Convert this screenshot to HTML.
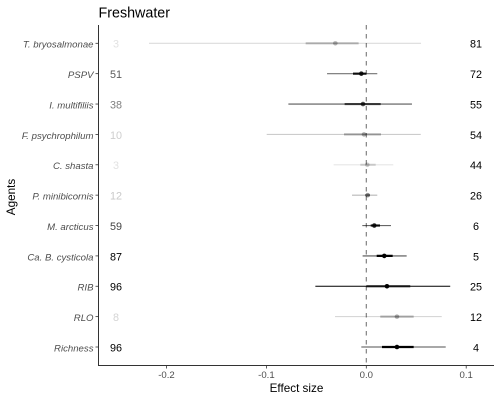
<!DOCTYPE html>
<html>
<head>
<meta charset="utf-8">
<style>
html,body{margin:0;padding:0;background:#fff;}
svg{display:block;font-family:"Liberation Sans",sans-serif;filter:blur(0.3px);}
</style>
</head>
<body>
<svg id="chart" width="500" height="400" viewBox="0 0 500 400" xmlns="http://www.w3.org/2000/svg">
<rect width="500" height="400" fill="#fff"/>
<text x="98.5" y="17.5" font-size="14.3" fill="#000">Freshwater</text>
<text transform="translate(15,197) rotate(-90)" text-anchor="middle" font-size="11.7" fill="#000">Agents</text>
<text x="296.5" y="392" text-anchor="middle" font-size="11.7" fill="#000">Effect size</text>
<g id="marks"></g>
<line x1="98.5" y1="25" x2="98.5" y2="365.5" stroke="#333" stroke-width="1"/>
<line x1="98" y1="365.5" x2="494" y2="365.5" stroke="#333" stroke-width="1"/>
</svg>
<script>
const agents = ["T. bryosalmonae","PSPV","I. multifiliis","F. psychrophilum","C. shasta","P. minibicornis","M. arcticus","Ca. B. cysticola","RIB","RLO","Richness"];
const leftCounts = [3,51,38,10,3,12,59,87,96,8,96];
const rightCounts = [81,72,55,54,44,26,6,5,25,12,4];
const estimates = [-0.031,-0.005,-0.0033,-0.0023,0.001,0.0014,0.008,0.018,0.0207,0.0307,0.0307];
const outerLow = [-0.2175,-0.0393,-0.078,-0.0997,-0.0327,-0.0143,-0.004,-0.0037,-0.051,-0.0313,-0.005];
const outerHigh = [0.0548,0.011,0.0457,0.0545,0.027,0.011,0.0247,0.0404,0.084,0.0755,0.0795];
const innerLow = [-0.0607,-0.0133,-0.0217,-0.0223,-0.006,-0.0013,0.0044,0.0104,0,0.014,0.0157];
const innerHigh = [-0.0077,0,0.0144,0.0147,0.0094,0.0037,0.0137,0.0264,0.044,0.0474,0.0474];
const outerStrength = [0.14,0.55,0.65,0.2,0.1,0.28,0.6,0.68,1,0.18,0.68];
const innerStrength = [0.24,0.9,0.65,0.28,0.15,0.35,0.9,1,0.72,0.26,1];
const pointStrength = [0.26,0.85,0.7,0.3,0.2,0.42,0.85,1,1,0.3,1];
const xTicks = [-0.2,-0.1,0,0.1];
const xTickLabels = ["-0.2","-0.1","0.0","0.1"];

const NS = "http://www.w3.org/2000/svg";
const marks = document.getElementById("marks");
function xScale(v){ return 366.3 + v * 999; }
function yScale(i){ return 43.3 + i * 30.37; }
function make(tag, attrs, text){
  const el = document.createElementNS(NS, tag);
  for (const k in attrs) el.setAttribute(k, attrs[k]);
  if (text !== undefined) el.textContent = text;
  marks.appendChild(el);
  return el;
}
function countColor(p){
  const shade = Math.round(255 * (1 - Math.min(1, p / 90 + 0.08)));
  return "rgb(" + shade + "," + shade + "," + shade + ")";
}

const refLine = make("line", {x1:xScale(0), x2:xScale(0), y1:25, y2:365, stroke:"#777", "stroke-width":1.1, "stroke-dasharray":"4.5 4.5"});



agents.forEach(function(name, i){
  const y = yScale(i);

  const tick = make("line", {x1:95.5, x2:98.5, y1:y, y2:y, stroke:"#333", "stroke-width":0.8});
  
  

  const label = make("text", {x:93.5, y:y + 4.4, "text-anchor":"end", "font-size":9.6, "font-style":"italic", fill:"#4d4d4d"}, name);
  
  

  const left = make("text", {x:116, y:y + 4.4, "text-anchor":"middle", "font-size":10.8, fill:countColor(leftCounts[i])}, leftCounts[i]);
  
  

  const right = make("text", {x:476, y:y + 4.4, "text-anchor":"middle", "font-size":10.8, fill:"#000"}, rightCounts[i]);
  
  

  const outer = make("line", {x1:xScale(outerLow[i]), x2:xScale(outerHigh[i]), y1:y, y2:y, stroke:"#000", "stroke-width":1.1, "stroke-opacity":outerStrength[i]});
  
  

  const inner = make("line", {x1:xScale(innerLow[i]), x2:xScale(innerHigh[i]), y1:y, y2:y, stroke:"#000", "stroke-width":2.2, "stroke-opacity":innerStrength[i]});
  
  

  const point = make("circle", {cx:xScale(estimates[i]), cy:y, r:2.3, fill:"#000", "fill-opacity":pointStrength[i]});
  
  
});

xTicks.forEach(function(v, i){
  const x = xScale(v);

  const tick = make("line", {x1:x, x2:x, y1:365.5, y2:368.5, stroke:"#333", "stroke-width":0.8});
  
  

  const label = make("text", {x:x, y:378, "text-anchor":"middle", "font-size":9.6, fill:"#4d4d4d"}, xTickLabels[i]);
  
  
});
</script>
</body>
</html>
